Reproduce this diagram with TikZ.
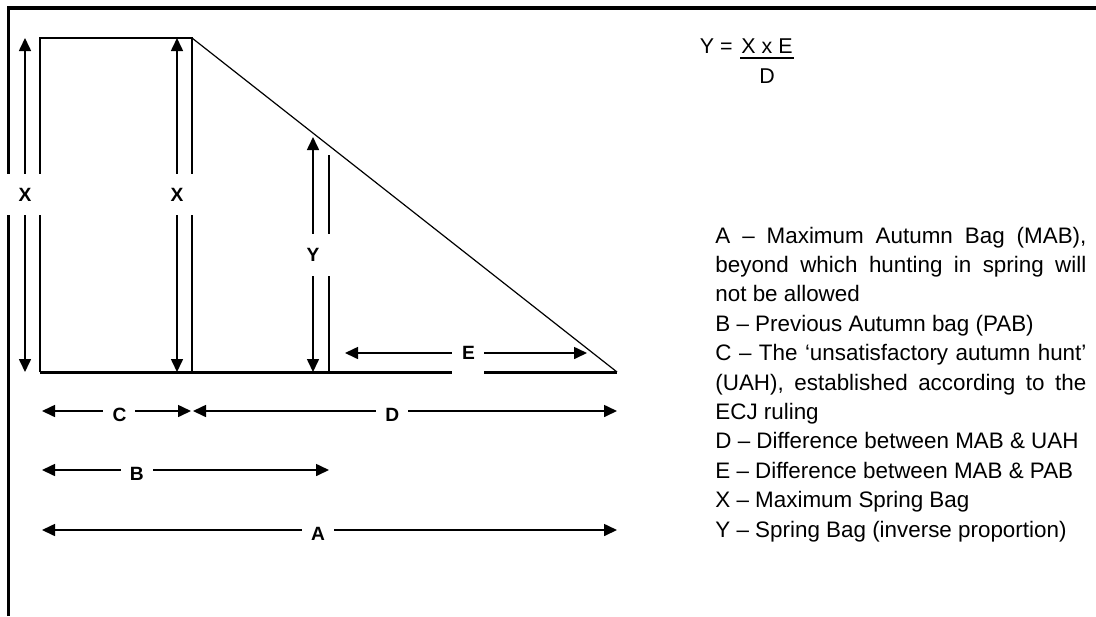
\documentclass[tikz,border=0pt]{standalone}
\usepackage{fontspec}
\setmainfont{Liberation Sans}
\usepackage{xcolor}
\definecolor{cInk}{HTML}{000000}
\usepackage{tikz}
\usetikzlibrary{positioning,arrows.meta}
\tikzset{
  line-frame/.style={draw=cInk,line width=1.75pt},
  line-edge/.style={draw=cInk,line width=1pt},
  line-base/.style={draw=cInk,line width=1.5pt},
  line-slope/.style={draw=cInk,line width=0.6pt},
  line-tick/.style={draw=cInk,line width=0.8pt},
  line-eq/.style={draw=cInk,line width=0.75pt},
  % dimension arrows: filled triangle at both ends
  arrow-dim/.style={{Triangle[length=6.5pt,width=6pt]}-{Triangle[length=6.5pt,width=6pt]},
    line width=0.8pt,draw=cInk},
  node-lbl/.style={fill=white,inner sep=0pt,text=cInk,
    font=\fontsize{9.6pt}{10.5pt}\selectfont\bfseries},
  node-lbl-v/.style={node-lbl,minimum width=19pt,minimum height=20.5pt},
  node-lbl-h/.style={node-lbl,minimum width=16pt,minimum height=14pt,yshift=-2pt},
  node-eq/.style={inner sep=0pt,text=cInk,font=\fontsize{10.7pt}{12pt}\selectfont},
  node-legend/.style={inner sep=0pt,text=cInk,text width=185.5pt,align=justify,
    font=\fontsize{11.2pt}{14.7pt}\selectfont},
}

\begin{document}
\begin{tikzpicture}[x=0.5pt,y=-0.5pt]
  \useasboundingbox (0,0) rectangle (1096,616);
  % frame (cut at right and bottom)
  \coordinate (fr-bot) at (8.5,616);
  \coordinate (fr-cnr) at (8.5,8);
  \coordinate (fr-rgt) at (1096,8);
  \draw[line-frame] (fr-bot) -- (fr-cnr) -- (fr-rgt);
  % rectangle + triangle
  \coordinate (top-l) at (40,38);
  \coordinate (top-r) at (192,38);
  \coordinate (bot-r) at (192,372);
  \coordinate (bot-l) at (40,372);
  \coordinate (apex)  at (617,372);
  \coordinate (tick-t) at (329,155);
  \coordinate (tick-b) at (329,372);
  \draw[line-edge] (bot-l) -- (top-l) -- (top-r) -- (bot-r);
  \draw[line-slope] (top-r) -- (apex);
  \draw[line-base] (bot-l) -- (apex);
  \draw[line-tick] (tick-t) -- (tick-b);
  % arrow ends
  \coordinate (xa-t) at (25,38);   \coordinate (xa-b) at (25,372);
  \coordinate (xb-t) at (177,38);  \coordinate (xb-b) at (177,372);
  \coordinate (y-t)  at (313,137); \coordinate (y-b)  at (313,372);
  \coordinate (e-l)  at (345,353); \coordinate (e-r)  at (587,353);
  \coordinate (c-l)  at (42,411);  \coordinate (c-r)  at (191,411);
  \coordinate (d-l)  at (193,411); \coordinate (d-r)  at (617,411);
  \coordinate (b-l)  at (42,470);  \coordinate (b-r)  at (329,470);
  \coordinate (a-l)  at (42,530);  \coordinate (a-r)  at (617,530);
  \draw[arrow-dim] (xa-t) -- node[node-lbl-v,pos=0.47] (lbl-xa) {X} (xa-b);
  \draw[arrow-dim] (xb-t) -- node[node-lbl-v,pos=0.47] (lbl-xb) {X} (xb-b);
  \draw[arrow-dim] (y-t) -- node[node-lbl-v,minimum height=21pt,pos=0.5] (lbl-y) {Y} (y-b);
  \draw[arrow-dim] (e-l) -- node[node-lbl,minimum width=16pt,minimum height=21pt,pos=0.51] (lbl-e) {E} (e-r);
  \draw[arrow-dim] (c-l) -- node[node-lbl-h,pos=0.52] (lbl-c) {C} (c-r);
  \draw[arrow-dim] (d-l) -- node[node-lbl-h,pos=0.47] (lbl-d) {D} (d-r);
  \draw[arrow-dim] (b-l) -- node[node-lbl-h,pos=0.33] (lbl-b) {B} (b-r);
  \draw[arrow-dim] (a-l) -- node[node-lbl-h,pos=0.48] (lbl-a) {A} (a-r);
  % formula
  \node[node-eq,inner xsep=0.5pt,inner ysep=2.35pt,anchor=base] (eq-num) at (767,53) {X x E};
  \draw[line-eq] (eq-num.south west) -- (eq-num.south east);
  \node[node-eq,anchor=base east] (eq-lhs) at ([xshift=-3.5pt]eq-num.base west) {Y =};
  \node[node-eq,below=4.9pt of eq-num] (eq-den) {D};
  % legend
  \node[node-legend,anchor=base west] (legend) at (715,243) {%
    A – Maximum Autumn Bag (MAB),\linebreak beyond which hunting in spring will\linebreak not be allowed\par
    B – Previous Autumn bag (PAB)\par
    C – The ‘unsatisfactory autumn hunt’\linebreak (UAH), established according to the\linebreak ECJ ruling\par
    D – Difference between MAB \& UAH\par
    E – Difference between MAB \& PAB\par
    X – Maximum Spring Bag\par
    Y – Spring Bag (inverse proportion)};
\end{tikzpicture}
\end{document}
